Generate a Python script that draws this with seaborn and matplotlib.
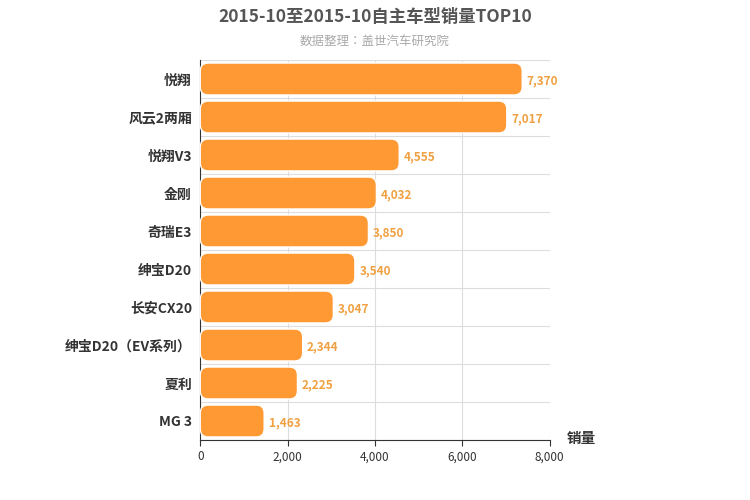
import matplotlib
matplotlib.use("Agg")
import matplotlib.pyplot as plt
import seaborn as sns
import pandas as pd
import numpy as np
from matplotlib import font_manager
from matplotlib.patches import FancyBboxPatch

# find a CJK font on disk and register it
cjk_name = None
for f in font_manager.findSystemFonts():
    if 'CJK' in f and ('SC' in f or 'ttc' in f.lower()):
        try:
            font_manager.fontManager.addfont(f)
            cjk_name = font_manager.FontProperties(fname=f).get_name()
            if 'Bold' in f:
                break
        except Exception:
            pass
families = [n for n in [cjk_name, 'Noto Sans CJK SC', 'Noto Sans CJK JP'] if n] + ['DejaVu Sans']
plt.rcParams['font.family'] = 'sans-serif'
plt.rcParams['font.sans-serif'] = families

models = ['悦翔', '风云2两厢', '悦翔V3', '金刚', '奇瑞E3', '绅宝D20', '长安CX20',
          '绅宝D20（EV系列）', '夏利', 'MG 3']
sales = [7370, 7017, 4555, 4032, 3850, 3540, 3047, 2344, 2225, 1463]
xticks = [0, 2000, 4000, 6000, 8000]

df = pd.DataFrame({'model': models, 'sales': sales})
color = '#FF9933'

fig = plt.figure(figsize=(7.5, 5), dpi=100)
ax = fig.add_axes([0.267, 0.12, 0.466, 0.76])
sns.barplot(data=df, y='model', x='sales', color=color, width=0.84, ax=ax, saturation=1)

# swap plain rectangles for rounded ones
x_per_px = 8000 / 350
y_per_px = 10 / 380
for p in list(ax.patches):
    x0, y0, w, h = p.get_x(), p.get_y(), p.get_width(), p.get_height()
    p.remove()
    ax.add_patch(FancyBboxPatch((x0, y0), w, h,
                                boxstyle=f"round,pad=0,rounding_size={8 * x_per_px}",
                                mutation_aspect=y_per_px / x_per_px,
                                fc=color, ec='white', lw=1, zorder=3))

for i, v in enumerate(sales):
    ax.text(v + 100, i + 0.05, f'{v:,}', va='center', ha='left', color='#F0A040',
            fontsize=8.5, fontweight='bold', zorder=4)

ax.set_xlim(0, 8000)
ax.set_ylim(9.5, -0.5)
ax.set_xticks(xticks)
ax.set_xticklabels([f'{t:,}' for t in xticks], fontsize=8.5, color='#333333')
ax.set_yticks(range(len(models)))
ax.set_yticklabels(models, fontsize=10, fontweight='bold', color='#333333')
for k in np.arange(-0.5, 10, 1):
    ax.axhline(k, color='#dddddd', lw=0.8, zorder=0)
for t in xticks[1:]:
    ax.axvline(t, color='#dddddd', lw=0.8, zorder=0)
ax.set_xlabel('')
ax.set_ylabel('')
for s in ['top', 'right']:
    ax.spines[s].set_visible(False)
ax.spines['left'].set_color('#333333')
ax.spines['bottom'].set_color('#333333')
ax.tick_params(axis='y', length=0, pad=6)
ax.tick_params(axis='x', length=4, color='#333333')

fig.text(0.5, 0.966, '2015-10至2015-10自主车型销量TOP10', ha='center', va='center',
         fontsize=12.5, fontweight='bold', color='#555555')
fig.text(0.5, 0.918, '数据整理：盖世汽车研究院', ha='center', va='center',
         fontsize=9, color='#aaaaaa')
fig.text(0.775, 0.124, '销量', ha='center', va='center', fontsize=10.5,
         fontweight='bold', color='#333333')

fig.savefig('out.png', dpi=100)
